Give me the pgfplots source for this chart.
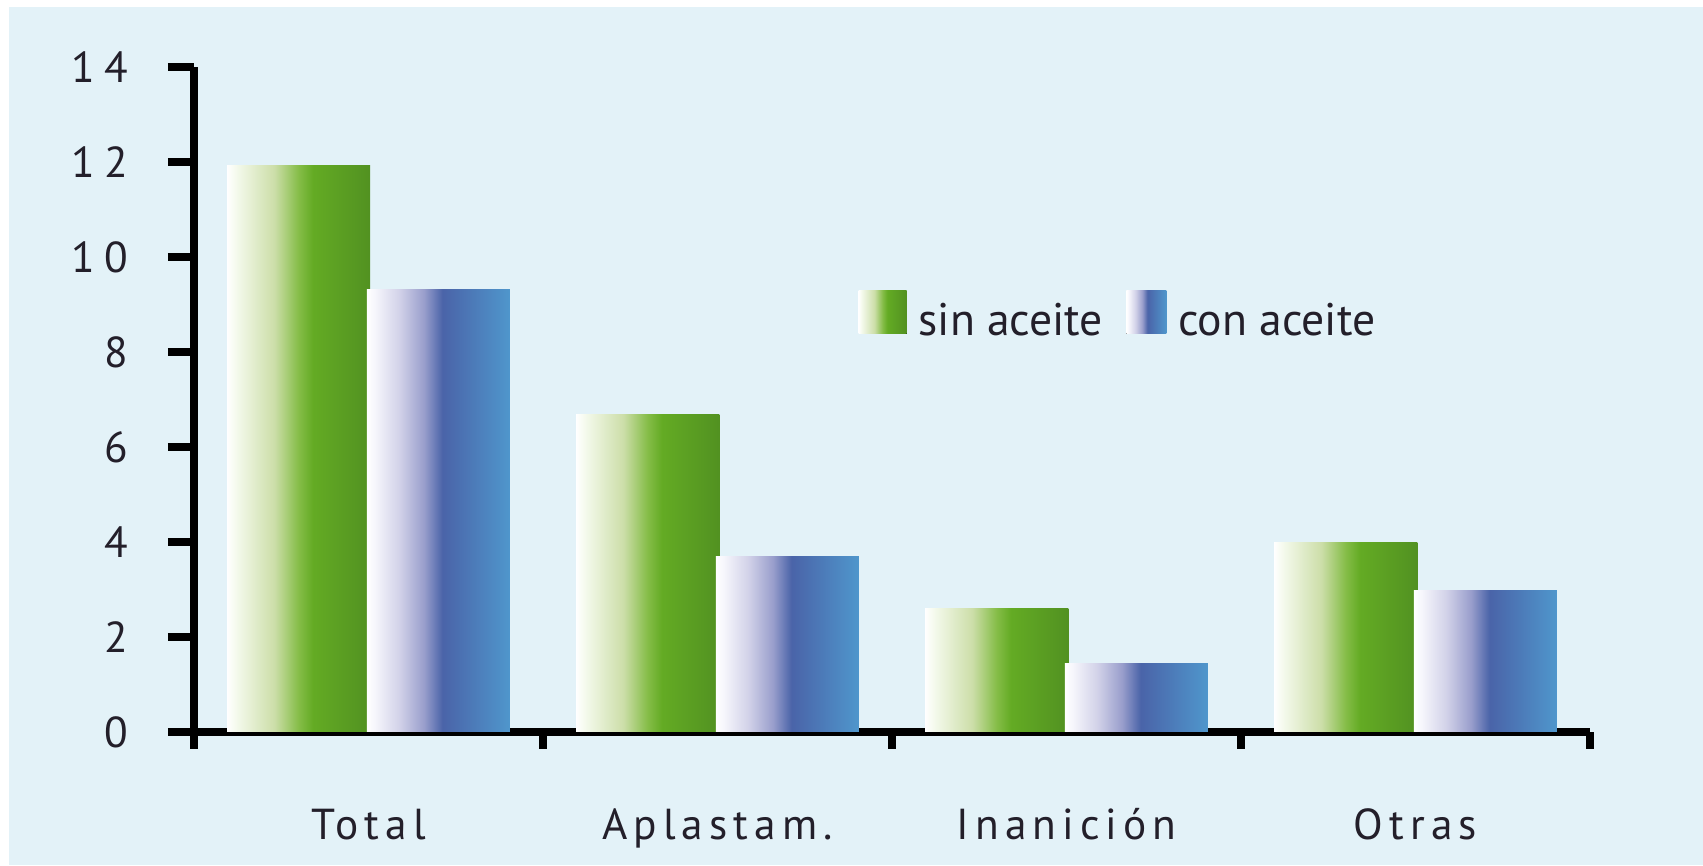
\documentclass[border=0pt]{standalone}
\usepackage{fontspec}
\setmainfont{PT Sans}
\newfontfamily\xspaced[LetterSpace=14]{PT Sans}
\newfontfamily\yspaced[LetterSpace=22]{PT Sans}
\usepackage{pgfplots}
\pgfplotsset{compat=1.18}
\definecolor{bg}{RGB}{227,242,248}
\definecolor{txt}{RGB}{35,31,42}
\pgfdeclarehorizontalshading{greenbar}{100bp}{rgb(0bp)=(1,1,1); rgb(25bp)=(1,1,1); rgb(28bp)=(0.96,0.98,0.93); rgb(41.5bp)=(0.80,0.87,0.66); rgb(50bp)=(0.52,0.74,0.28); rgb(55bp)=(0.39,0.67,0.14); rgb(75bp)=(0.32,0.57,0.13); rgb(100bp)=(0.32,0.57,0.13)}
\pgfdeclarehorizontalshading{bluebar}{100bp}{rgb(0bp)=(1,1,1); rgb(25bp)=(1,1,1); rgb(27.5bp)=(0.97,0.97,0.99); rgb(36.5bp)=(0.82,0.82,0.91); rgb(45bp)=(0.60,0.62,0.80); rgb(51.5bp)=(0.29,0.39,0.66); rgb(75bp)=(0.31,0.59,0.80); rgb(100bp)=(0.31,0.59,0.80)}
\pgfplotsset{
  gbar/.style={ybar, bar width=0.41, bar shift=-0.2, draw=none, shading=greenbar,
    legend image code/.code={\fill[shading=greenbar] (0pt,-3.5pt) rectangle (14.4pt,9.4pt);}},
  bbar/.style={ybar, bar width=0.41, bar shift=0.2, draw=none, shading=bluebar,
    legend image code/.code={\fill[shading=bluebar] (0pt,-3.5pt) rectangle (12pt,9.4pt);}},
}
\begin{document}
\begin{tikzpicture}
\useasboundingbox (0,0) rectangle (510.9pt,259.5pt);
\fill[bg] (2.7pt,0) rectangle (510.9pt,257.4pt);
\begin{axis}[
  at={(58.2pt,39.9pt)}, anchor=south west,
  width=418.8pt, height=199.5pt, scale only axis,
  xmin=-0.5, xmax=3.5, ymin=0, ymax=14,
  axis lines*=left,
  axis line style={line width=2.4pt, black},
  tick align=outside,
  ytick={0,2,4,6,8,10,12,14},
  yticklabels={0,2,4,6,8,10,12,14},
  xtick={0,1,2,3},
  xticklabels={Total,Aplastam.,Inanición,Otras},
  minor xtick={-0.5,0.5,1.5,2.5,3.5},
  major tick length=7.8pt,
  minor tick length=5.1pt,
  major y tick style={line width=2.4pt, black},
  major x tick style={draw=none},
  minor x tick style={line width=2.4pt, black},
  yticklabel style={font=\yspaced\fontsize{13}{15}\selectfont, text=txt, anchor=east, inner sep=0pt, xshift=-11.7pt},
  xticklabel style={font=\xspaced\fontsize{13}{15}\selectfont, text=txt, anchor=base, inner sep=0pt, yshift=-24.3pt},
  legend style={at={(0.4756,0.6263)}, anchor=west, draw=none, fill=none, inner sep=0pt,
    legend columns=-1,
    /tikz/every odd column/.style={column sep=3.6pt},
    /tikz/every even column/.style={column sep=7pt},
    nodes={inner sep=0pt, font=\fontsize{13.7}{16}\selectfont, text=txt}},
]
% sin aceite
\addplot[gbar] coordinates {(0,11.92)};
\addlegendentry{sin aceite}
\addplot[gbar, forget plot] coordinates {(1,6.68)};
\addplot[gbar, forget plot] coordinates {(2,2.6)};
\addplot[gbar, forget plot] coordinates {(3,3.98)};
% con aceite
\addplot[bbar] coordinates {(0,9.31)};
\addlegendentry{con aceite}
\addplot[bbar, forget plot] coordinates {(1,3.7)};
\addplot[bbar, forget plot] coordinates {(2,1.45)};
\addplot[bbar, forget plot] coordinates {(3,2.97)};
\end{axis}
\end{tikzpicture}
\end{document}
